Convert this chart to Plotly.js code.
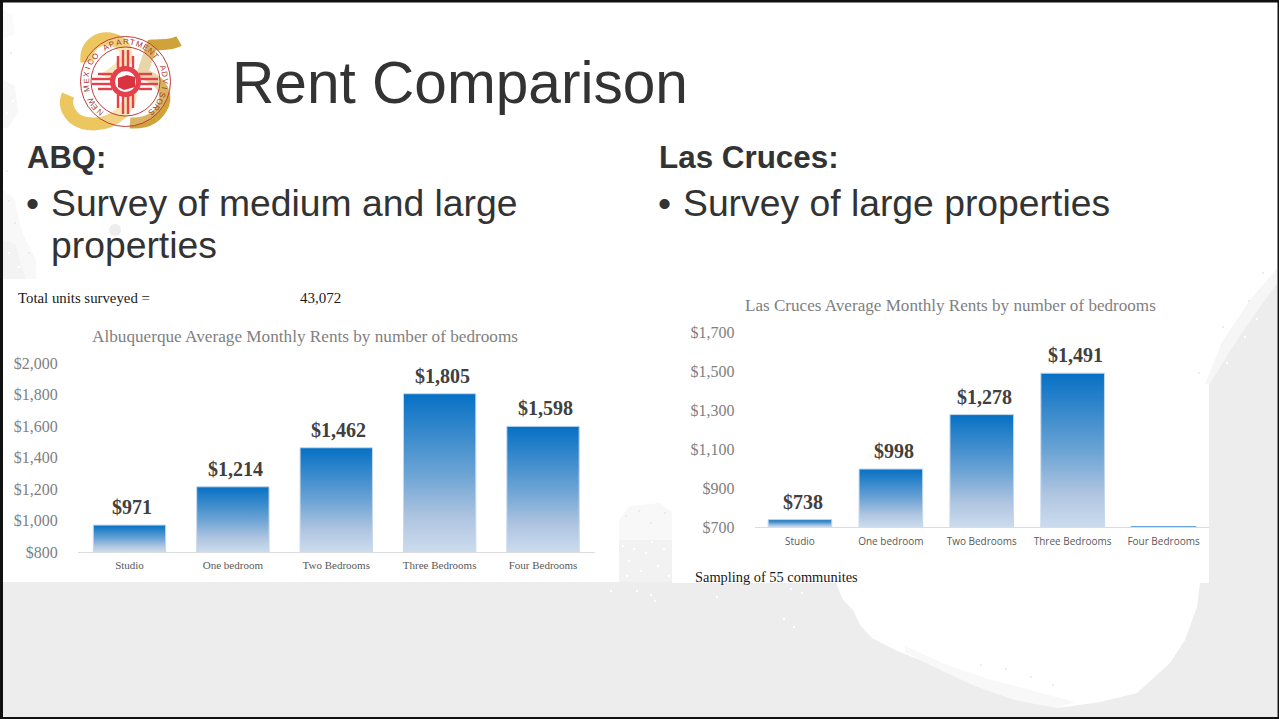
<!DOCTYPE html>
<html>
<head>
<meta charset="utf-8">
<title>Rent Comparison</title>
<script src="https://cdn.plot.ly/plotly-3.0.1.min.js"></script>
<style>
  html, body { margin: 0; padding: 0; background: #fff; overflow: hidden; }
  #slide { width: 1279px; height: 719px; }
</style>
</head>
<body>
<div id="slide"></div>
<script>
// ---- chart data ----
const bedroomTypes = ["Studio", "One bedroom", "Two Bedrooms", "Three Bedrooms", "Four Bedrooms"];
const abqRents = [971, 1214, 1462, 1805, 1598];
const abqLabels = ["$971", "$1,214", "$1,462", "$1,805", "$1,598"];
const abqTicks = [800, 1000, 1200, 1400, 1600, 1800, 2000];
const lcRents = [738, 998, 1278, 1491, 700];
const lcLabels = ["$738", "$998", "$1,278", "$1,491", ""];
const lcTicks = [700, 900, 1100, 1300, 1500, 1700];

// ---- slide geometry helpers (pixels to paper fractions) ----
const W = 1279, H = 719;
const fx = x => x / W;
const fy = y => 1 - y / H;
const SANS = '"Liberation Sans", Arial, sans-serif';
const SERIF = '"Liberation Serif", Garamond, serif';
const GREY = '#ededed';

function pxPath(d) {
  return d.replace(/(-?[\d.]+)[ ,](-?[\d.]+)/g, (m, x, y) => fx(+x).toFixed(5) + ',' + fy(+y).toFixed(5));
}
function pathShape(d, opts) {
  const o = Object.assign({ fill: null, line: null, width: 0, layer: 'below' }, opts);
  return {
    type: 'path', xref: 'paper', yref: 'paper', layer: o.layer, path: pxPath(d),
    fillcolor: o.fill || 'rgba(0,0,0,0)',
    line: { color: o.line || 'rgba(0,0,0,0)', width: o.width, cap: 'round' }
  };
}
function boxShape(x0, y0, x1, y1, fill, layer) {
  return {
    type: 'rect', xref: 'paper', yref: 'paper', layer: layer || 'below',
    x0: fx(x0), x1: fx(x1), y0: fy(y0), y1: fy(y1),
    fillcolor: fill, line: { width: 0 }
  };
}
function ringShape(cx, cy, r, fill, line, width) {
  return {
    type: 'circle', xref: 'paper', yref: 'paper', layer: 'below',
    x0: fx(cx - r), x1: fx(cx + r), y0: fy(cy - r), y1: fy(cy + r),
    fillcolor: fill || 'rgba(0,0,0,0)',
    line: { color: line || 'rgba(0,0,0,0)', width: width || 0 }
  };
}
// Annotations carry a small built-in inset, so x is pulled back to land the glyphs on the given pixel.
function textAt(text, x, y, size, color, family, extra) {
  return Object.assign({
    xref: 'paper', yref: 'paper', x: fx(x - 2), y: fy(y), text: text, showarrow: false,
    xanchor: 'left', yanchor: 'middle', align: 'left',
    font: { size: size, color: color, family: family }
  }, extra || {});
}

// ---- slide backdrop: worn grey texture behind the white centre ----
const backdrop = [
  // soft grain along the torn edges
  pathShape('M1277,268 L1250,300 L1222,342 L1205,384 L1209,385 L1240,335 L1277,283 Z', { fill: '#f6f6f6' }),
  pathShape('M905,646 L945,664 L985,678 L1030,690 L1075,702 L1057,708 L1015,700 L975,686 L945,672 L905,652 Z', { fill: '#f8f8f8' }),
  pathShape('M619,582 L619,520 L630,506 L660,503 L672,512 L672,582 Z', { fill: '#f8f8f8' }),
  boxShape(619, 540, 672, 582, '#f2f2f2'),
  pathShape('M3,190 L14,198 L22,232 L36,260 L36,279 L3,279 Z', { fill: '#f8f8f8' }),
  pathShape('M3,240 L16,244 L20,262 L26,279 L3,279 Z', { fill: '#f3f3f3' }),
  pathShape('M3,10 L12,14 L15,34 L3,38 Z', { fill: '#fafafa' }),
  pathShape('M3,80 L15,86 L18,112 L8,128 L3,128 Z', { fill: '#f7f7f7' }),
  ringShape(115, 230, 6, GREY),
  // solid grey field
  pathShape('M1277,283 L1240,335 L1209,385 L1209,583 L1200,583 L1197,607 L1185,640 L1170,663 L1137,693 L1100,702 L1057,708 L1015,700 L975,686 L945,672 L920,660 L895,650 L872,638 L860,625 L853,610 L843,600 L836,583 L672,583 L672,582 L3,582 L3,717 L1277,717 Z', { fill: GREY })
];
// scattered flecks where the texture breaks up
const whiteFlecks = [[622,545],[628,560],[633,548],[640,570],[645,552],[651,541],[657,565],[663,548],[668,575],[626,575],
  [636,590],[650,594],[610,590],[654,600],[716,596],[790,588],[801,592],[783,618],[793,626],
  [1000,672],[1018,682],[1035,690],[1048,676],[1062,694],[1078,700],[1096,696],
  [1226,362],[1244,336],[1256,318],[8,252],[18,266],[12,100],[6,112]];
const greyFlecks = [[625,515],[638,510],[650,522],[664,512],[980,664],[1005,668],[1030,676],[1052,684],[1198,372],[1222,326],[1248,300],[1262,272],
  [8,200],[14,222],[6,170],[10,52],[28,252]];
whiteFlecks.forEach(p => backdrop.push(boxShape(p[0], p[1], p[0] + 2, p[1] + 2, '#ffffff')));
greyFlecks.forEach(p => backdrop.push(boxShape(p[0], p[1], p[0] + 2, p[1] + 2, GREY)));

// ---- association seal ----
const LOGO_CX = 125.5, LOGO_CY = 81.5;
const ZIA = '#e5404b';
const seal = [
  pathShape('M87,62 C85,44 100,36 114,40 C130,45 130,62 114,73 C132,80 136,100 120,114 C106,127 84,126 74,118 C66,110 65,102 68,95', { line: '#ecc65f', width: 13 }),
  pathShape('M179,41 C170,46 160,44 152,45 L142,74 C158,78 168,90 164,104 C158,118 146,124 130,123', { line: '#cfa23a', width: 11 }),
  ringShape(LOGO_CX, LOGO_CY, 45, 'rgba(255,255,255,0.2)', '#c23b3b', 1),
  ringShape(LOGO_CX, LOGO_CY, 34.5, 'rgba(255,255,255,0.45)', '#c23b3b', 1)
];
[-7.5, -2.5, 2.5, 7.5].forEach((d, i) => {
  const a = i === 0 || i === 3 ? 6 : 0;
  seal.push(boxShape(LOGO_CX + d - 1.2, 50 + a, LOGO_CX + d + 1.2, 68, ZIA));
  seal.push(boxShape(LOGO_CX + d - 1.2, 95, LOGO_CX + d + 1.2, 114 - a, ZIA));
  seal.push(boxShape(92 + a, LOGO_CY + d - 1.2, 112, LOGO_CY + d + 1.2, ZIA));
  seal.push(boxShape(139, LOGO_CY + d - 1.2, 158 - a, LOGO_CY + d + 1.2, ZIA));
});
seal.push(ringShape(LOGO_CX, LOGO_CY, 13, '#ffffff', ZIA, 5));
seal.push(pathShape('M118,78 L127,75 L135,77 L135,87 L124,90 L118,87 Z', { fill: '#d8333f' }));

const sealName = 'NEW MEXICO APARTMENT ADVISORS'.split('');
const sealLetters = sealName.map((ch, i) => {
  const deg = -140 + i * 280 / (sealName.length - 1);
  const rad = deg * Math.PI / 180;
  return {
    xref: 'paper', yref: 'paper', showarrow: false, text: ch, textangle: deg,
    x: fx(LOGO_CX + 39.5 * Math.sin(rad)), y: fy(LOGO_CY - 39.5 * Math.cos(rad)),
    xanchor: 'center', yanchor: 'middle',
    font: { size: 8, color: '#a03a30', family: SANS }
  };
});

// ---- window frame ----
const frame = [
  boxShape(0, 0, W, 2.5, '#111111', 'above'),
  boxShape(0, 0, 3, H, '#111111', 'above'),
  boxShape(0, 717, W, H, '#111111', 'above'),
  boxShape(1277.5, 0, W, H, '#111111', 'above')
];

// ---- slide text ----
const INK = '#333333';
const slideText = [
  textAt('Rent Comparison', 231.5, 82, 58.6, INK, SANS),
  textAt('ABQ:', 27, 157, 31, INK, SANS, { font: { size: 31, color: INK, family: SANS, weight: 'bold' } }),
  textAt('Las Cruces:', 659, 157, 31.4, INK, SANS, { font: { size: 31.4, color: INK, family: SANS, weight: 'bold' } }),
  textAt('•', 26, 203, 37.3, INK, SANS),
  textAt('Survey of medium and large', 51, 203, 37.3, INK, SANS),
  textAt('properties', 51, 245, 37.3, INK, SANS),
  textAt('•', 658, 203, 37.3, INK, SANS),
  textAt('Survey of large properties', 683, 203, 37.3, INK, SANS),
  textAt('Total units surveyed =', 18, 298, 14.8, '#1a1a1a', SERIF),
  textAt('43,072', 300, 298, 15, '#1a1a1a', SERIF),
  textAt('Sampling of 55 communites', 695, 577, 14.4, '#1a1a1a', SERIF),
  textAt('Albuquerque Average Monthly Rents by number of bedrooms', 92, 336, 17.2, '#7f7f7f', SERIF),
  textAt('Las Cruces Average Monthly Rents by number of bedrooms', 745, 306, 17.1, '#7f7f7f', SERIF)
];

// ---- value labels sit above each bar, placed on the data axes ----
function valueLabels(labels, values, xref, yref, xShift) {
  return labels.map((t, i) => t ? {
    xref: xref, yref: yref, x: bedroomTypes[i], y: values[i], text: t, showarrow: false,
    xanchor: 'center', yanchor: 'bottom', yshift: 5, xshift: xShift,
    font: { size: 20, color: '#404040', family: SERIF, weight: 'bold' }
  } : null).filter(Boolean);
}

// ---- bars ----
const EDGE = '#c6d8ed';
const barTraces = [
  {
    type: 'bar', x: bedroomTypes, y: abqRents, xaxis: 'x', yaxis: 'y', width: 0.7,
    marker: { color: '#6aa3d4', line: { color: EDGE, width: 1 } },
    hoverinfo: 'skip'
  },
  {
    type: 'bar', x: bedroomTypes, y: lcRents, xaxis: 'x2', yaxis: 'y2', width: 0.7,
    marker: {
      color: '#6aa3d4',
      line: { color: [EDGE, EDGE, EDGE, EDGE, '#6aa5d8'], width: [1, 1, 1, 1, 2] }
    },
    hoverinfo: 'skip'
  }
];

function valueAxis(domain, range, ticks) {
  return {
    domain: domain, range: range, tickmode: 'array', tickvals: ticks, tickformat: '$,.0f',
    showgrid: false, zeroline: false, showline: false, ticks: '', fixedrange: true,
    ticklabelstandoff: 19,
    tickfont: { size: 16, color: '#808080', family: SERIF }
  };
}
function categoryAxis(domain, tickFont, standoff) {
  return {
    domain: domain, type: 'category', categoryorder: 'array', categoryarray: bedroomTypes,
    range: [-0.5, 4.5], showgrid: false, zeroline: false, showline: true, linecolor: '#dcdcdc', linewidth: 1,
    ticks: '', fixedrange: true, tickangle: 0, ticklabelstandoff: standoff, tickfont: tickFont
  };
}

const layout = {
  width: W, height: H, margin: { l: 0, r: 0, t: 0, b: 0 }, autosize: false,
  paper_bgcolor: '#ffffff', plot_bgcolor: 'rgba(0,0,0,0)',
  showlegend: false, hovermode: false, barmode: 'group',
  xaxis: categoryAxis([fx(77.8), fx(594.7)], { size: 11, color: '#595959', family: SERIF }, 3),
  yaxis: Object.assign(valueAxis([fy(552), fy(363)], [800, 2000], abqTicks), { anchor: 'x' }),
  xaxis2: Object.assign(categoryAxis([fx(754.5), fx(1209)], { size: 10, color: '#595959', family: '"Open Sans", sans-serif' }, 5), { anchor: 'y2' }),
  yaxis2: Object.assign(valueAxis([fy(527), fy(332.5)], [700, 1700], lcTicks), { anchor: 'x2' }),
  shapes: backdrop.concat(seal, frame),
  annotations: slideText.concat(
    sealLetters,
    valueLabels(abqLabels, abqRents, 'x', 'y', 2.5),
    valueLabels(lcLabels, lcRents, 'x2', 'y2', 3)
  )
};

// Fills each bar with a vertical blue fade running from its top down to the axis.
function applyBarFades(gd) {
  const NS = 'http://www.w3.org/2000/svg';
  const svg = gd.querySelector('.main-svg');
  let defs = svg.querySelector('defs');
  if (!defs) { defs = document.createElementNS(NS, 'defs'); svg.insertBefore(defs, svg.firstChild); }
  const stops = [[0, '#0670c4'], [0.5, '#6aa3d4'], [0.78, '#aec4e0'], [1, '#ccdcee']];
  gd.querySelectorAll('.barlayer .trace').forEach((trace, t) => {
    const floor = gd._fullLayout[t === 0 ? 'yaxis' : 'yaxis2']._length;
    trace.querySelectorAll('.point path').forEach((bar, i) => {
      const id = 'bar-fade-' + t + '-' + i;
      let grad = svg.querySelector('#' + id);
      if (!grad) {
        grad = document.createElementNS(NS, 'linearGradient');
        grad.setAttribute('id', id);
        grad.setAttribute('gradientUnits', 'userSpaceOnUse');
        stops.forEach(s => {
          const stop = document.createElementNS(NS, 'stop');
          stop.setAttribute('offset', s[0]);
          stop.setAttribute('stop-color', s[1]);
          grad.appendChild(stop);
        });
        defs.appendChild(grad);
      }
      const box = bar.getBBox();
      grad.setAttribute('x1', 0); grad.setAttribute('x2', 0);
      grad.setAttribute('y1', box.y); grad.setAttribute('y2', floor);
      bar.style.fill = 'url(#' + id + ')';
      bar.style.fillOpacity = 1;
    });
  });
}

Plotly.newPlot('slide', barTraces, layout, { displayModeBar: false, staticPlot: true })
  .then(applyBarFades);
</script>
</body>
</html>
